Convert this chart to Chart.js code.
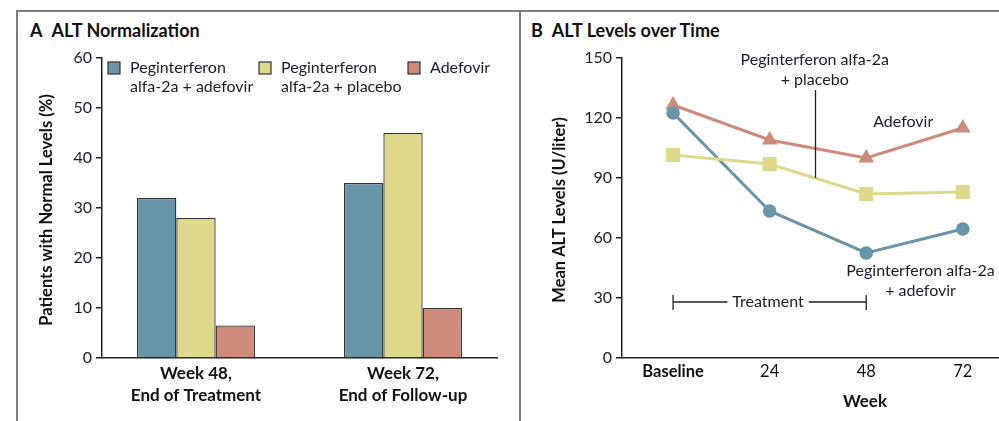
<!DOCTYPE html>
<html>
<head>
<meta charset="utf-8">
<script src="https://cdn.jsdelivr.net/npm/chart.js@4.4.1/dist/chart.umd.min.js"></script>
<style>
    body { margin: 0; width: 999px; height: 421px; position: relative; overflow: hidden; background: #fff; font-family: Lato, sans-serif; }
    canvas { position: absolute; top: 0; }
    .rule { position: absolute; background: #7d7d7d; z-index: 2; }
    .panel-title { position: absolute; top: 19px; font-weight: bold; font-size: 18px; color: #111; white-space: nowrap; }
    .panel-title span { margin-left: 9px; }
</style>
</head>
<body>
<div class="rule" style="left:16px; top:10px; width:983px; height:2px;"></div>
<div class="rule" style="left:16px; top:10px; width:2px; height:411px;"></div>
<div class="rule" style="left:519px; top:10px; width:2px; height:411px;"></div>
<div class="panel-title" style="left:30px;">A<span>ALT Normalization</span></div>
<div class="panel-title" style="left:531px;">B<span>ALT Levels over Time</span></div>
<canvas id="chartA" width="520" height="421" style="left:0;"></canvas>
<canvas id="chartB" width="479" height="421" style="left:520px;"></canvas>
<script>
// panel A: share of patients with normal ALT
const groups = [1, 2];
const groupLabels = [['Week 48,', 'End of Treatment'], ['Week 72,', 'End of Follow-up']];
const legendNames = [['Peginterferon', 'alfa-2a + adefovir'], ['Peginterferon', 'alfa-2a + placebo'], ['Adefovir']];
const pctCombination = [32, 35];
const pctPlacebo = [28, 45];
const pctAdefovir = [6.5, 10];
const pctTicks = [0, 10, 20, 30, 40, 50, 60];

// panel B: mean ALT over time
const weeks = [0, 24, 48, 72];
const weekLabels = ['Baseline', '24', '48', '72'];
const altCombination = [122.5, 73.5, 52.5, 64.5];
const altPlacebo = [101.5, 97, 82, 83];
const altAdefovir = [126.5, 109, 100, 115];
const altTicks = [0, 30, 60, 90, 120, 150];

const BLUE = '#6995a9';
const YELLOW = '#ded88b';
const RED = '#cf8b79';
const INK = '#1c1c28';

Chart.defaults.font.family = 'Lato, sans-serif';
Chart.defaults.color = INK;

const axisBorder = { display: true, color: '#222', width: 1.5 };

function noSidePadding(s) {
    s.height = 63;
    s.paddingLeft = 0;
    s.paddingRight = 0;
}

function drawRotated(ctx, text, x, y) {
    ctx.save();
    ctx.translate(x, y);
    ctx.rotate(-Math.PI / 2);
    ctx.fillText(text, 0, 0);
    ctx.restore();
}

const panelAExtras = {
    id: 'panelAExtras',
    afterDraw(chart) {
        const ctx = chart.ctx;
        const area = chart.chartArea;
        ctx.save();
        ctx.fillStyle = '#111';
        ctx.font = 'bold 16.5px Lato';
        ctx.textAlign = 'center';
        ctx.textBaseline = 'middle';
        drawRotated(ctx, 'Patients with Normal Levels (%)', 47, (area.top + area.bottom) / 2 + 2);

        // legend
        const xs = [108, 259, 408];
        ctx.font = '16px Lato';
        ctx.textAlign = 'left';
        chart.data.datasets.forEach((ds, i) => {
            ctx.fillStyle = ds.backgroundColor;
            ctx.fillRect(xs[i], 62, 12, 12);
            ctx.strokeStyle = '#333';
            ctx.lineWidth = 1.2;
            ctx.strokeRect(xs[i], 62, 12, 12);
            ctx.fillStyle = INK;
            legendNames[i].forEach((line, j) => ctx.fillText(line, xs[i] + 22, 68 + j * 19));
        });
        ctx.restore();
    }
};

const panelBExtras = {
    id: 'panelBExtras',
    afterDraw(chart) {
        const ctx = chart.ctx;
        const area = chart.chartArea;
        const xs = chart.scales.x;
        const ys = chart.scales.y;
        ctx.save();
        ctx.fillStyle = '#111';
        ctx.font = 'bold 16.5px Lato';
        ctx.textAlign = 'center';
        ctx.textBaseline = 'middle';
        drawRotated(ctx, 'Mean ALT Levels (U/liter)', 40, (area.top + area.bottom) / 2 + 2);
        ctx.font = 'bold 17px Lato';
        ctx.fillText('Week', 345, 402);

        ctx.font = '16px Lato';
        ctx.fillStyle = INK;
        // series labels
        ctx.fillText('Peginterferon alfa-2a', xs.getPixelForValue(35.2), ys.getPixelForValue(149));
        ctx.fillText('+ placebo', xs.getPixelForValue(35.2), ys.getPixelForValue(139));
        ctx.fillText('Adefovir', xs.getPixelForValue(57.2), ys.getPixelForValue(118));
        ctx.fillText('Peginterferon alfa-2a', xs.getPixelForValue(61.5), ys.getPixelForValue(43.5));
        ctx.fillText('+ adefovir', xs.getPixelForValue(61.5), ys.getPixelForValue(33.5));

        ctx.strokeStyle = '#222';
        ctx.lineWidth = 1.3;
        const lx = Math.round(xs.getPixelForValue(35.2)) + 0.5;
        ctx.beginPath();
        ctx.moveTo(lx, ys.getPixelForValue(134));
        ctx.lineTo(lx, ys.getPixelForValue(90));
        ctx.stroke();

        // treatment bracket
        const by = ys.getPixelForValue(28);
        const bx0 = xs.getPixelForValue(0);
        const bx1 = xs.getPixelForValue(48);
        const tx = xs.getPixelForValue(23.6);
        const half = ctx.measureText('Treatment').width / 2 + 5;
        ctx.beginPath();
        ctx.moveTo(bx0, by - 7); ctx.lineTo(bx0, by + 8);
        ctx.moveTo(bx1, by - 7); ctx.lineTo(bx1, by + 8);
        ctx.moveTo(bx0, by); ctx.lineTo(tx - half, by);
        ctx.moveTo(tx + half, by); ctx.lineTo(bx1, by);
        ctx.stroke();
        ctx.fillText('Treatment', tx, by);
        ctx.restore();
    }
};

function drawNormalization() {
    const bar = (data, color) => ({
        data: data.map((v, i) => ({ x: groups[i], y: v })),
        backgroundColor: color,
        borderColor: '#333',
        borderWidth: 1.3,
        barPercentage: 1,
        categoryPercentage: 0.57
    });

    new Chart(document.getElementById('chartA'), {
        type: 'bar',
        data: {
            datasets: [bar(pctCombination, BLUE), bar(pctPlacebo, YELLOW), bar(pctAdefovir, RED)]
        },
        options: {
            responsive: false,
            devicePixelRatio: 1,
            animation: false,
            layout: { autoPadding: false, padding: { top: 58, right: 23, left: 0, bottom: 0 } },
            plugins: { legend: { display: false }, tooltip: { enabled: false } },
            scales: {
                x: {
                    type: 'linear',
                    offset: false,
                    min: 0.546,
                    max: 2.454,
                    afterBuildTicks: s => { s.ticks = groups.map(v => ({ value: v })); },
                    grid: { display: false, drawTicks: false, offset: false },
                    border: axisBorder,
                    ticks: {
                        color: '#111',
                        padding: 4,
                        callback: v => groupLabels[groups.indexOf(v)],
                        font: { size: 17, weight: 'bold', lineHeight: 1.3 }
                    },
                    afterFit: noSidePadding
                },
                y: {
                    min: 0,
                    max: 60,
                    afterBuildTicks: s => { s.ticks = pctTicks.map(v => ({ value: v })); },
                    grid: { drawOnChartArea: false, tickLength: 6, color: '#222', lineWidth: 1.5 },
                    border: axisBorder,
                    ticks: { padding: 4, font: { size: 16 } },
                    afterFit: s => { s.width = 102; }
                }
            }
        },
        plugins: [panelAExtras]
    });
}

function drawLevels() {
    const line = (data, color, style, radius) => ({
        data: data.map((v, i) => ({ x: weeks[i], y: v })),
        borderColor: color,
        backgroundColor: color,
        borderWidth: 3,
        pointStyle: style,
        pointRadius: radius,
        pointBorderWidth: 0,
        tension: 0
    });

    new Chart(document.getElementById('chartB'), {
        type: 'line',
        data: {
            datasets: [
                line(altPlacebo, YELLOW, 'rect', 10),
                line(altCombination, BLUE, 'circle', 6.8),
                line(altAdefovir, RED, 'triangle', 9)
            ]
        },
        options: {
            responsive: false,
            devicePixelRatio: 1,
            animation: false,
            clip: false,
            layout: { autoPadding: false, padding: { top: 58, right: 0, left: 0, bottom: 0 } },
            plugins: { legend: { display: false }, tooltip: { enabled: false } },
            scales: {
                x: {
                    type: 'linear',
                    min: -12.7,
                    max: 81,
                    afterBuildTicks: s => { s.ticks = weeks.map(v => ({ value: v })); },
                    grid: { display: false, drawTicks: false },
                    border: axisBorder,
                    ticks: {
                        padding: 4,
                        color: '#111',
                        callback: v => weekLabels[weeks.indexOf(v)],
                        font: ctx => ({ size: 16.5, weight: ctx.tick && ctx.tick.value === 0 ? 'bold' : 'normal' })
                    },
                    afterFit: noSidePadding
                },
                y: {
                    min: 0,
                    max: 150,
                    afterBuildTicks: s => { s.ticks = altTicks.map(v => ({ value: v })); },
                    grid: { drawOnChartArea: false, tickLength: 6, color: '#222', lineWidth: 1.5 },
                    border: axisBorder,
                    ticks: { padding: 4, font: { size: 16 } },
                    afterFit: s => { s.width = 102; }
                }
            }
        },
        plugins: [panelBExtras]
    });
}

Promise.all([document.fonts.load('16px Lato'), document.fonts.load('bold 16px Lato')])
    .catch(() => {})
    .then(() => {
        drawNormalization();
        drawLevels();
    });
</script>
</body>
</html>
